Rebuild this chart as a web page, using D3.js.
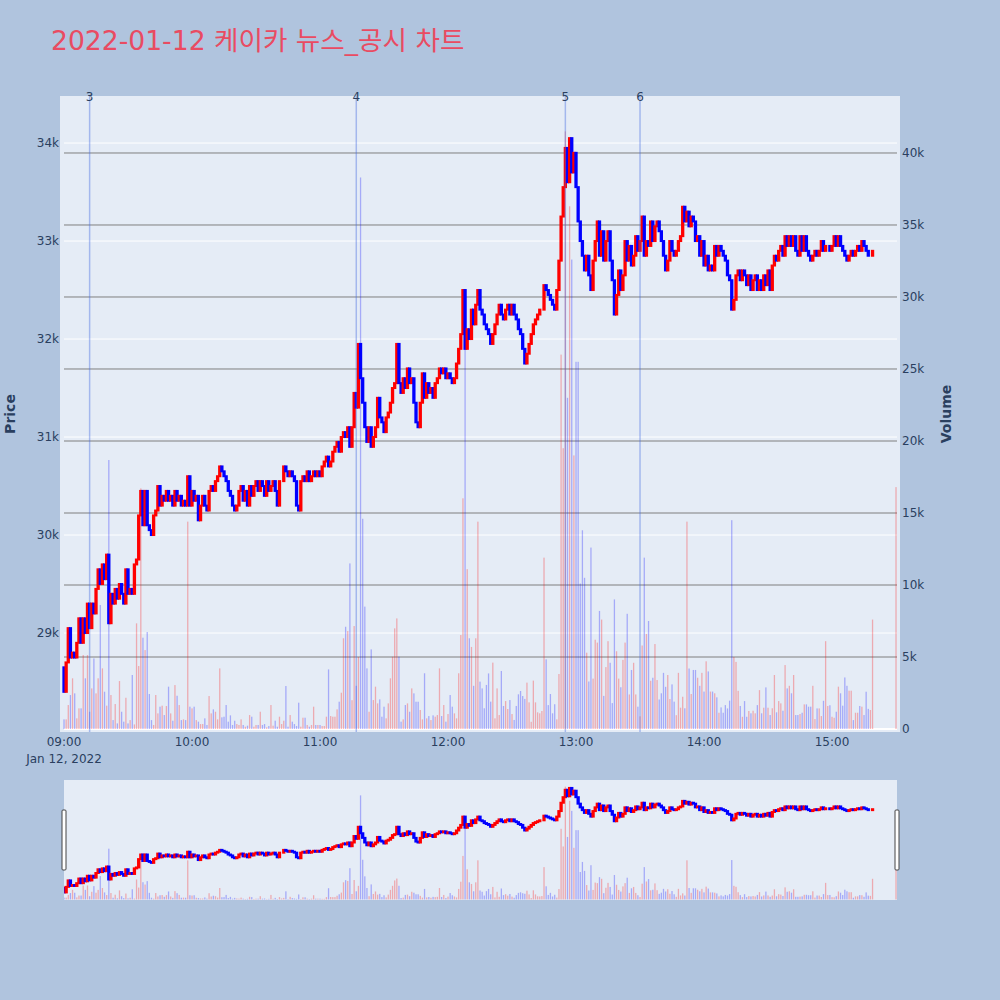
<!DOCTYPE html>
<html><head><meta charset="utf-8">
<script src="https://cdn.jsdelivr.net/npm/d3@7"></script>
<style>body{margin:0;background:#b0c4de}svg{display:block}</style>
</head><body><svg id="c" width="1000" height="1000"></svg>
<script>
// ---- data ----
const sessionStart = "2022-01-12T09:00:00";
const firstOpen = 28650;
// close of each 1-minute candle from 09:00 (the open of a candle is the previous close)
const closes = [
28400,28700,29050,28750,28800,28750,28900,29150,28900,29150,
29000,29300,29050,29300,29200,29450,29650,29500,29700,29550,
29800,29100,29400,29300,29450,29350,29500,29400,29300,29650,
29400,29450,29400,29700,29750,30200,30450,30100,30450,30100,
30050,30000,30200,30250,30500,30300,30400,30350,30450,30350,
30400,30300,30450,30350,30400,30300,30350,30300,30600,30300,
30450,30350,30400,30150,30300,30400,30300,30250,30450,30500,
30450,30550,30600,30700,30650,30600,30550,30450,30400,30300,
30250,30300,30450,30500,30350,30450,30300,30500,30400,30500,
30550,30450,30550,30500,30400,30550,30450,30500,30550,30450,
30300,30550,30550,30700,30650,30600,30650,30600,30550,30300,
30250,30550,30600,30550,30650,30550,30600,30650,30600,30650,
30600,30700,30750,30800,30700,30750,30850,30900,30950,30850,
31000,31050,31000,31100,30900,31100,31450,31300,31950,31600,
31350,31100,30950,31100,30900,31000,31100,31400,31200,31150,
31050,31200,31250,31350,31500,31550,31950,31550,31450,31600,
31500,31700,31550,31600,31350,31150,31100,31350,31650,31400,
31550,31450,31500,31400,31550,31600,31700,31650,31700,31600,
31650,31600,31550,31600,31750,31900,32050,32500,31900,32100,
32000,32300,32150,32350,32500,32300,32250,32150,32100,32050,
31950,32050,32150,32250,32350,32250,32200,32300,32350,32250,
32350,32250,32200,32100,32050,31900,31750,31850,31950,32050,
32150,32200,32250,32300,32300,32550,32500,32450,32400,32350,
32300,32500,32800,33250,33550,33950,33600,34050,33700,33900,
33550,33200,33000,32850,32700,32850,32650,32500,32800,33000,
33200,32850,33100,32800,33000,33100,32800,32600,32250,32450,
32700,32500,32650,33000,32800,32950,32750,32850,33050,32900,
33000,33250,32850,33000,32950,33200,33000,33150,33200,33100,
33000,32850,32700,32800,33000,32900,32850,32900,33000,33050,
33350,33200,33300,33150,33250,33200,33000,33050,32850,33000,
32750,32850,32700,32750,32700,32950,32850,32950,32900,32850,
32800,32650,32600,32300,32400,32650,32700,32600,32700,32650,
32550,32650,32500,32600,32650,32500,32600,32500,32650,32550,
32700,32500,32750,32850,32800,32900,32950,32850,33050,32950,
33050,32950,33050,32900,32850,33050,32900,33050,32900,32850,
32800,32850,32900,32850,32900,33000,32900,32950,32950,32900,
32950,33050,32950,33050,32950,32900,32850,32800,32850,32900,
32850,32900,32950,32900,33000,32950,32900,32850,32850,32900
];
const volumes = [
670,670,1665,2360,3520,2475,740,1434,1434,5137,
3520,5137,1200,2820,4900,2475,3520,8610,4210,2590,
1620,18680,2360,620,1735,390,3330,1200,510,2170,
390,620,3750,320,7337,4373,16710,6340,5480,6735,
2430,620,280,2360,1085,1550,1620,970,1596,2940,
1085,576,3050,2310,1665,620,670,620,14400,1550,
1434,1550,620,510,345,345,740,280,2290,1085,
1364,1200,670,4210,810,855,1665,510,947,280,
576,345,280,670,280,160,230,970,855,160,
280,280,1200,280,345,115,206,1665,230,576,
160,855,345,576,2985,160,970,510,345,206,
1827,160,785,785,280,160,280,1550,280,280,
280,206,206,855,4140,900,855,855,1364,1896,
2520,6300,7100,6800,11500,2000,7150,3000,5000,38300,
14600,8500,4210,1200,5530,2010,2940,1780,2058,855,
1550,740,1780,3520,5020,6990,7680,5020,510,670,
1665,1780,1200,2820,2475,1896,1896,1320,670,3870,
740,900,620,947,855,970,4210,900,1665,510,
1040,2360,1550,1085,740,3870,6526,16020,30000,11100,
6300,5700,3000,6300,14400,3290,2820,1440,3060,3860,
1900,4610,740,2820,970,4030,1600,1940,1390,2010,
1040,630,1600,2410,2640,2290,2090,3220,1850,500,
3360,1850,1160,1090,1250,11900,4840,1660,2430,1090,
1720,670,3820,26000,19500,41500,23000,36300,32600,19000,
25500,25500,10100,13800,10500,5300,3300,12600,3500,6200,
6000,8200,7600,2300,4300,6100,4600,1800,9000,5400,
3500,2900,4800,6000,8000,2400,4100,4600,2400,1550,
880,5800,11900,6600,7500,3350,3560,5900,3400,2050,
2480,3900,2930,3750,2080,3100,1900,960,3900,1480,
2240,1440,14400,4200,2430,4100,4100,3560,3000,3900,
2600,4700,4000,2600,2600,2480,2200,1130,1500,1130,
1660,1430,1970,14500,5000,4660,2650,1600,850,1940,
850,1250,1090,1270,1090,1660,2700,1090,1480,2890,
1480,970,1440,3750,1160,1940,1780,1270,4440,2820,
3000,2480,3750,970,970,1040,1130,1710,1710,1550,
1550,3000,690,1430,1430,900,1960,6100,1600,1650,
850,780,1200,2940,2480,1620,3580,3000,2660,2660,
620,1130,1130,1600,1550,970,2590,1400,1320,7600
];
// closing auction
const auctionTime = "2022-01-12T15:30:00";
const auctionPrice = 33000;
const auctionVolume = 16800;
// news / disclosure markers
const newsTimes = ["2022-01-12T09:12:00","2022-01-12T11:17:00","2022-01-12T12:55:00","2022-01-12T13:30:00"];
const newsLabels = ["3","4","5","6"];
const priceTicks = [29000,30000,31000,32000,33000,34000];
const volumeTicks = [0,5000,10000,15000,20000,25000,30000,35000,40000];
const timeTicks = ["09:00","10:00","11:00","12:00","13:00","14:00","15:00"];
const titleText = "2022-01-12 케이카 뉴스_공시 차트";

// ---- build records ----
const parse = d3.isoParse;
const t0 = parse(sessionStart);
const candles = closes.map((c, i) => {
  const o = i === 0 ? firstOpen : closes[i - 1];
  return {t: d3.timeMinute.offset(t0, i), o, c, v: volumes[i]};
});
candles.push({t: parse(auctionTime), o: auctionPrice, c: auctionPrice, v: auctionVolume});

// ---- layout ----
const svg = d3.select("#c");
const FONT = "'DejaVu Sans', Verdana, 'Noto Sans CJK KR', sans-serif";
const TXT = "#2a3f5f";
const P = {l: 60, r: 900, t: 96, b: 732};
const G = {l: 64, r: 897};
const S = {t: 780, b: 900};
const UP = "#ff0000", DN = "#0000ff";

const x = d3.scaleTime()
  .domain([d3.timeSecond.offset(t0, -112.5), d3.timeSecond.offset(t0, 391.875 * 60)])
  .range([P.l, P.r]);
const yP = d3.scaleLinear().domain([27990, 34480]).range([P.b, P.t]);
const yV = d3.scaleLinear().domain([-208, 43958]).range([P.b, P.t]);
const sP = yP.copy().range([S.b, S.t]);
const sV = yV.copy().range([S.b, S.t]);

svg.append("rect").attr("width", 1000).attr("height", 1000).attr("fill", "#b0c4de");

// title
svg.append("text").attr("x", 51).attr("y", 50).attr("fill", "#e94b62")
  .attr("font-family", FONT).attr("font-size", 26.6).text(titleText);

// plot bg
svg.append("rect").attr("x", P.l).attr("y", P.t).attr("width", P.r - P.l).attr("height", P.b - P.t).attr("fill", "#e5ecf6");

const defs = svg.append("defs");
defs.append("clipPath").attr("id", "clipMain").append("rect")
  .attr("x", P.l).attr("y", P.t).attr("width", P.r - P.l).attr("height", P.b - P.t);
defs.append("clipPath").attr("id", "clipSl").append("rect")
  .attr("x", G.l).attr("y", S.t).attr("width", G.r - G.l).attr("height", S.b - S.t);

// grid: price (white)
svg.append("g").selectAll("line").data(priceTicks).join("line")
  .attr("x1", G.l).attr("x2", G.r).attr("y1", d => yP(d)).attr("y2", d => yP(d))
  .attr("stroke", "#ffffff").attr("stroke-width", 1);
// grid: volume (gray) + white zero line
svg.append("g").selectAll("line").data(volumeTicks.filter(d => d > 0)).join("line")
  .attr("x1", G.l).attr("x2", G.r).attr("y1", d => yV(d)).attr("y2", d => yV(d))
  .attr("stroke", "#7f7f7f").attr("stroke-width", 1);
svg.append("line").attr("x1", G.l).attr("x2", G.r).attr("y1", yV(0)).attr("y2", yV(0))
  .attr("stroke", "#ffffff").attr("stroke-width", 2);

function drawVolume(g, ys) {
  g.selectAll("rect").data(candles).join("rect")
    .attr("x", d => x(d.t) - 0.65).attr("width", 1.3)
    .attr("y", d => ys(d.v)).attr("height", d => ys(0) - ys(d.v))
    .attr("fill", d => d.c >= d.o ? UP : DN).attr("fill-opacity", 0.28);
}
function drawCandles(g, ys) {
  g.selectAll("rect").data(candles).join("rect")
    .attr("x", d => x(d.t) - 0.65).attr("width", 1.3)
    .attr("y", d => ys(Math.max(d.o, d.c)))
    .attr("height", d => Math.abs(ys(d.o) - ys(d.c)))
    .attr("fill", d => d.c >= d.o ? UP : DN)
    .attr("stroke", d => d.c >= d.o ? UP : DN).attr("stroke-width", 2);
}

const main = svg.append("g").attr("clip-path", "url(#clipMain)");
drawVolume(main.append("g"), yV);
drawCandles(main.append("g"), yP);

// news lines
const news = svg.append("g");
news.selectAll("line").data(newsTimes).join("line")
  .attr("x1", d => x(parse(d))).attr("x2", d => x(parse(d)))
  .attr("y1", P.t).attr("y2", P.b)
  .attr("stroke", "rgb(65,105,225)").attr("stroke-opacity", 0.4).attr("stroke-width", 1.5);
news.selectAll("text").data(newsTimes).join("text")
  .attr("x", d => x(parse(d))).attr("y", 101).attr("text-anchor", "middle")
  .attr("font-family", FONT).attr("font-size", 12).attr("fill", TXT)
  .text((d, i) => newsLabels[i]);

// axes labels
const fmt = d3.format("~s");
svg.append("g").selectAll("text").data(priceTicks).join("text")
  .attr("x", 59).attr("y", d => yP(d)).attr("dy", "0.35em").attr("text-anchor", "end")
  .attr("font-family", FONT).attr("font-size", 12).attr("fill", TXT).text(d => fmt(d));
svg.append("g").selectAll("text").data(volumeTicks).join("text")
  .attr("x", 902).attr("y", d => yV(d)).attr("dy", "0.35em").attr("text-anchor", "start")
  .attr("font-family", FONT).attr("font-size", 12).attr("fill", TXT).text(d => fmt(d));
const tParse = d3.timeParse("%Y-%m-%d %H:%M");
svg.append("g").selectAll("text").data(timeTicks).join("text")
  .attr("x", d => x(tParse("2022-01-12 " + d))).attr("y", 746).attr("text-anchor", "middle")
  .attr("font-family", FONT).attr("font-size", 12).attr("fill", TXT).text(d => d);
svg.append("text").attr("x", x(t0)).attr("y", 763).attr("text-anchor", "middle")
  .attr("font-family", FONT).attr("font-size", 12).attr("fill", TXT).text("Jan 12, 2022");

svg.append("text").attr("transform", `translate(15,${(P.t + P.b) / 2}) rotate(-90)`)
  .attr("text-anchor", "middle").attr("font-family", FONT).attr("font-size", 14)
  .attr("font-weight", "bold").attr("fill", TXT).text("Price");
svg.append("text").attr("transform", `translate(951,${(P.t + P.b) / 2}) rotate(-90)`)
  .attr("text-anchor", "middle").attr("font-family", FONT).attr("font-size", 14)
  .attr("font-weight", "bold").attr("fill", TXT).text("Volume");

// range slider
svg.append("rect").attr("x", G.l).attr("y", S.t).attr("width", G.r - G.l).attr("height", S.b - S.t).attr("fill", "#e5ecf6");
const sl = svg.append("g").attr("clip-path", "url(#clipSl)");
drawVolume(sl.append("g"), sV);
drawCandles(sl.append("g"), sP);
[G.l - 2, G.r - 2].forEach(hx => {
  svg.append("rect").attr("x", hx).attr("y", 810).attr("width", 4).attr("height", 60)
    .attr("rx", 1).attr("fill", "#ffffff").attr("stroke", "#444").attr("stroke-width", 1);
});
</script></body></html>
